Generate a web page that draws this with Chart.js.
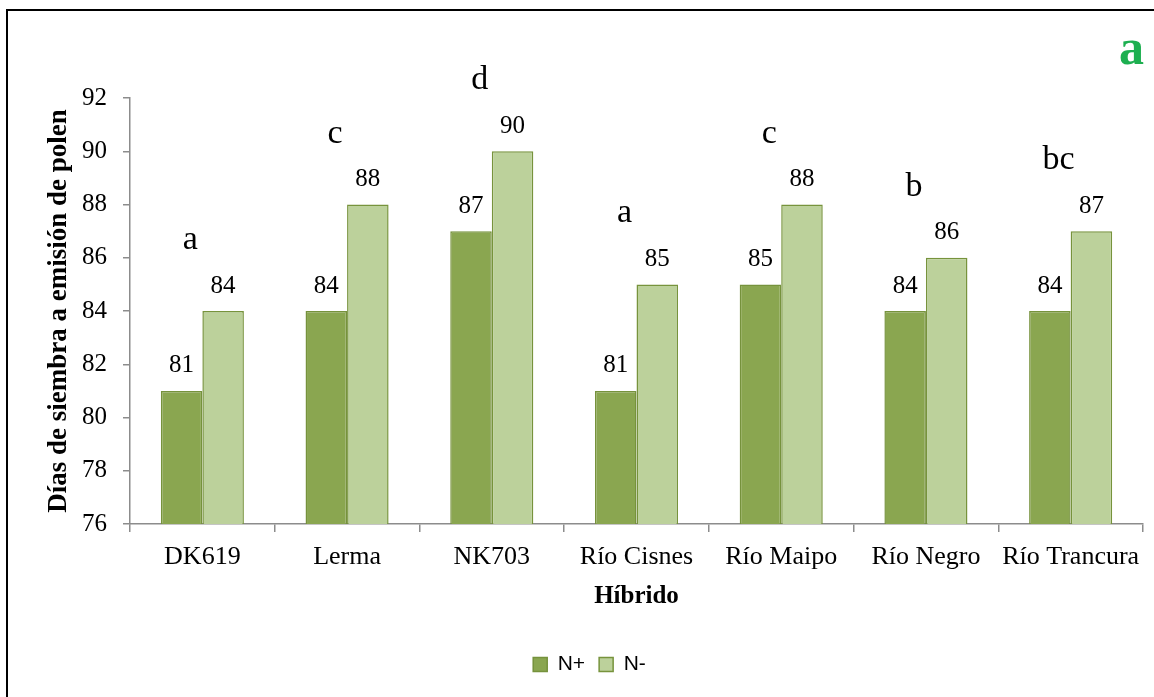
<!DOCTYPE html>
<html>
<head>
<meta charset="utf-8">
<script src="https://cdn.jsdelivr.net/npm/chart.js@4/dist/chart.umd.min.js"></script>
<style>
  html, body { margin: 0; padding: 0; background: #fff; }
  body { width: 1154px; height: 697px; position: relative; overflow: hidden; }
  #frame { position: absolute; left: 6px; top: 9px; width: 1300px; height: 800px;
           border-top: 2px solid #000; border-left: 2px solid #000; }
  #wrap { position: absolute; left: 0; top: 0; width: 1154px; height: 697px; }
  #panel { position: absolute; left: 1119px; top: 18px; font: bold 50px "Liberation Serif", serif; color: #1daf50; }
</style>
</head>
<body>
<div id="frame"></div>
<div id="wrap"><canvas id="c" width="1154" height="697"></canvas></div>
<div id="panel">a</div>
<script>
// Hybrids and days from sowing to pollen shedding
const hybrids = ['DK619', 'Lerma', 'NK703', 'Río Cisnes', 'Río Maipo', 'Río Negro', 'Río Trancura'];
const nPlus  = [81, 84, 87, 81, 85, 84, 84];
const nMinus = [84, 88, 90, 85, 88, 86, 87];
const groupLetters = ['a', 'c', 'd', 'a', 'c', 'b', 'bc'];
const yTicks = [76, 78, 80, 82, 84, 86, 88, 90, 92];

const serif = '"Liberation Serif", "Times New Roman", serif';

// Value labels above each bar plus significance letters above each hybrid
const annotate = {
  id: 'annotate',
  afterDatasetsDraw(chart) {
    const ctx = chart.ctx;
    ctx.save();
    ctx.fillStyle = '#000';
    ctx.textAlign = 'center';
    ctx.textBaseline = 'middle';
    ctx.font = '25px ' + serif;
    chart.data.datasets.forEach((ds, di) => {
      chart.getDatasetMeta(di).data.forEach((bar, i) => {
        ctx.fillText(String(ds.data[i]), bar.x, bar.y - 25);
      });
    });
    const yScale = chart.scales.y;
    const xScale = chart.scales.x;
    ctx.font = '34px ' + serif;
    ctx.textBaseline = 'alphabetic';
    groupLetters.forEach((t, i) => {
      const top = yScale.getPixelForValue(nMinus[i]);
      ctx.fillText(t, xScale.getPixelForValue(i) - 12, top - 62);
    });
    ctx.restore();
  }
};

// Legend sits a little right of the canvas centre
const legendShift = {
  id: 'legendShift',
  afterLayout(chart) {
    chart.legend.left += 18;
    chart.legend.right += 18;
  }
};

new Chart(document.getElementById('c'), {
  type: 'bar',
  data: {
    labels: hybrids,
    datasets: [
      { label: 'N+', data: nPlus, backgroundColor: '#8aa650', borderColor: '#76923c', borderWidth: 1.5 },
      { label: 'N-', data: nMinus, backgroundColor: '#bcd19b', borderColor: '#77933c', borderWidth: 1.5 }
    ]
  },
  options: {
    responsive: false,
    animation: false,
    events: [],
    layout: { padding: { left: 0, top: 98, right: 11, bottom: 12 } },
    datasets: { bar: { categoryPercentage: 0.574, barPercentage: 1.0 } },
    plugins: {
      legend: {
        position: 'bottom',
        labels: {
          font: { family: '"Liberation Sans", Arial, sans-serif', size: 21 },
          color: '#000',
          boxWidth: 14, boxHeight: 14, padding: 14
        }
      },
      tooltip: { enabled: false }
    },
    scales: {
      x: {
        grid: { display: true, drawOnChartArea: false, tickLength: 8, color: '#8c8c8c', lineWidth: 1.5 },
        border: { color: '#8c8c8c', width: 1.5 },
        ticks: { color: '#000', font: { family: serif, size: 26 }, padding: 10, maxRotation: 0, autoSkip: false },
        title: { display: true, text: 'Híbrido', color: '#000', font: { family: serif, size: 25, weight: 'bold' }, padding: { top: 4, bottom: 28 } },
        afterFit(scale) { scale.height = 116; }
      },
      y: {
        min: 76, max: 92,
        afterBuildTicks(scale) { scale.ticks = yTicks.map(v => ({ value: v })); },
        grid: { display: true, drawOnChartArea: false, tickLength: 7, color: '#8c8c8c', lineWidth: 1.5 },
        border: { color: '#8c8c8c', width: 1.5 },
        ticks: { color: '#000', font: { family: serif, size: 25 }, padding: 16 },
        title: { display: true, text: 'Días de siembra a emisión de polen', color: '#000', font: { family: serif, size: 27, weight: 'bold' }, padding: { top: 43, bottom: 0 } },
        afterFit(scale) { scale.width = 130; }
      }
    }
  },
  plugins: [annotate, legendShift]
});
</script>
</body>
</html>
